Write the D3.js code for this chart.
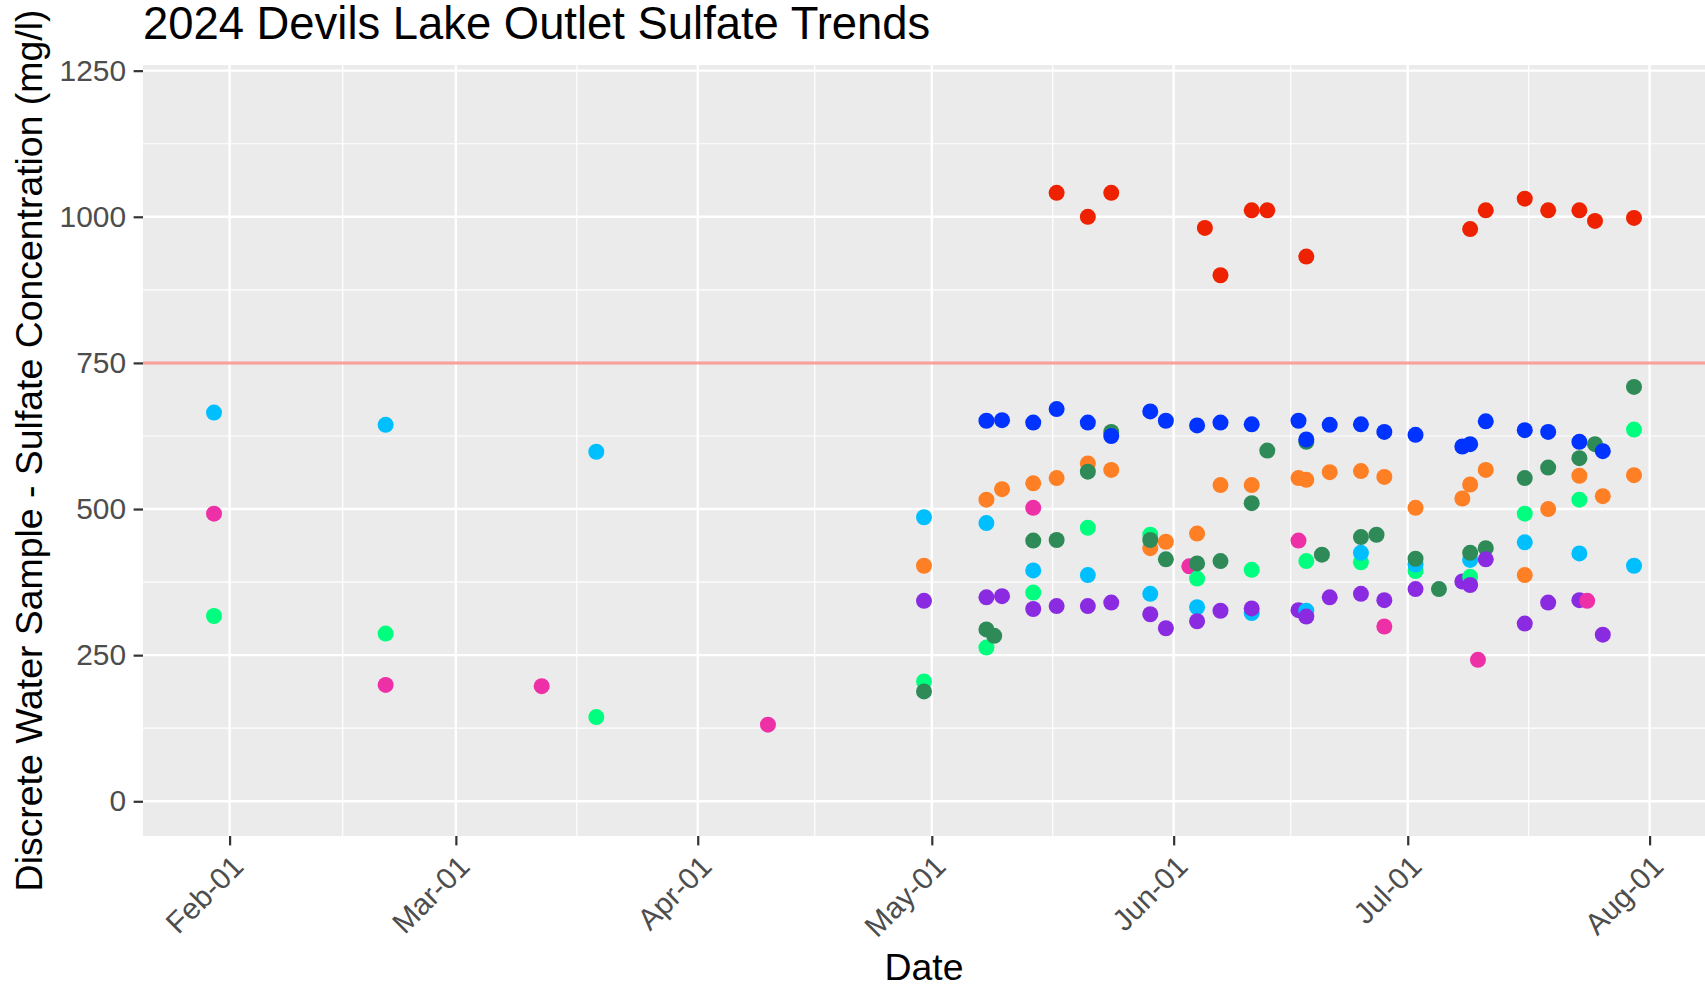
<!DOCTYPE html>
<html><head><meta charset="utf-8">
<script src="https://cdn.jsdelivr.net/npm/d3@7"></script>
<style>
body{margin:0;background:#fff}
svg{display:block}
text{font-family:"Liberation Sans",Arial,Helvetica,sans-serif}
</style>
</head><body>
<svg id="chart" width="1705" height="992"></svg>
<script>
// ---------------- DATA ----------------
const seriesNames  = ["Site G", "Site LB", "Site O", "Site DG", "Site B", "Site P", "Site PK", "Site R"];
const seriesColors = ["#00FF7F", "#00BFFF", "#FF7F24", "#2E8B57", "#0033FF", "#8A2BE2", "#EE30A7", "#EE2200"];

const siteGDates  = ["2024-01-30","2024-02-21","2024-03-19","2024-04-30","2024-05-08","2024-05-14","2024-05-21","2024-05-29","2024-06-04","2024-06-11","2024-06-18","2024-06-25","2024-07-02","2024-07-09","2024-07-16","2024-07-23","2024-07-30"];
const siteGValues = [317, 287, 144, 205, 263, 357, 468, 456, 381, 396, 411, 409, 394, 384, 492, 516, 636];

const siteLBDates  = ["2024-01-30","2024-02-21","2024-03-19","2024-04-30","2024-05-08","2024-05-14","2024-05-21","2024-05-29","2024-06-04","2024-06-11","2024-06-18","2024-06-25","2024-07-02","2024-07-09","2024-07-16","2024-07-23","2024-07-30"];
const siteLBValues = [665, 644, 598, 486, 476, 395, 387, 355, 332, 322, 326, 425, 405, 413, 443, 424, 403];

const siteODates  = ["2024-04-30","2024-05-08","2024-05-10","2024-05-14","2024-05-17","2024-05-21","2024-05-24","2024-05-29","2024-05-31","2024-06-04","2024-06-07","2024-06-11","2024-06-17","2024-06-18","2024-06-21","2024-06-25","2024-06-28","2024-07-02","2024-07-08","2024-07-09","2024-07-11","2024-07-16","2024-07-19","2024-07-23","2024-07-26","2024-07-30"];
const siteOValues = [403, 516, 534, 544, 553, 578, 567, 433, 444, 458, 541, 541, 553, 550, 563, 565, 555, 502, 518, 542, 567, 387, 500, 557, 522, 558];

const siteDGDates  = ["2024-04-30","2024-05-08","2024-05-09","2024-05-14","2024-05-17","2024-05-21","2024-05-24","2024-05-29","2024-05-31","2024-06-04","2024-06-07","2024-06-11","2024-06-13","2024-06-18","2024-06-20","2024-06-25","2024-06-27","2024-07-02","2024-07-05","2024-07-09","2024-07-11","2024-07-16","2024-07-19","2024-07-23","2024-07-25","2024-07-30"];
const siteDGValues = [188, 294, 283, 446, 447, 564, 632, 447, 414, 407, 411, 510, 600, 615, 422, 452, 456, 415, 363, 425, 433, 553, 571, 587, 611, 709];

const siteBDates  = ["2024-05-08","2024-05-10","2024-05-14","2024-05-17","2024-05-21","2024-05-24","2024-05-29","2024-05-31","2024-06-04","2024-06-07","2024-06-11","2024-06-17","2024-06-18","2024-06-21","2024-06-25","2024-06-28","2024-07-02","2024-07-08","2024-07-09","2024-07-11","2024-07-16","2024-07-19","2024-07-23","2024-07-26"];
const siteBValues = [651, 652, 648, 671, 648, 625, 667, 651, 643, 648, 645, 651, 619, 644, 645, 632, 627, 607, 611, 650, 635, 632, 615, 599];

const sitePDates  = ["2024-04-30","2024-05-08","2024-05-10","2024-05-14","2024-05-17","2024-05-21","2024-05-24","2024-05-29","2024-05-31","2024-06-04","2024-06-07","2024-06-11","2024-06-17","2024-06-18","2024-06-21","2024-06-25","2024-06-28","2024-07-02","2024-07-08","2024-07-09","2024-07-11","2024-07-16","2024-07-19","2024-07-23","2024-07-26"];
const sitePValues = [343, 349, 351, 329, 334, 334, 340, 320, 296, 308, 326, 330, 327, 316, 349, 355, 344, 363, 376, 370, 414, 304, 340, 344, 285];

const sitePKDates  = ["2024-01-30","2024-02-21","2024-03-12","2024-04-10","2024-05-14","2024-06-03","2024-06-17","2024-06-28","2024-07-10","2024-07-24"];
const sitePKValues = [492, 199, 197, 131, 502, 402, 446, 299, 242, 343];

const siteRDates  = ["2024-05-17","2024-05-21","2024-05-24","2024-06-05","2024-06-07","2024-06-11","2024-06-13","2024-06-18","2024-07-09","2024-07-11","2024-07-16","2024-07-19","2024-07-23","2024-07-25","2024-07-30"];
const siteRValues = [1041, 1000, 1041, 981, 900, 1011, 1011, 932, 979, 1011, 1031, 1011, 1011, 993, 998];

const yTickValues   = [0, 250, 500, 750, 1000, 1250];
const yMinorValues  = [125, 375, 625, 875, 1125];
const yLimits       = [-59.4, 1259.7];
const thresholdValue = 750;
const xTickDates    = ["2024-02-01","2024-03-01","2024-04-01","2024-05-01","2024-06-01","2024-07-01","2024-08-01"];
const titleText = "2024 Devils Lake Outlet Sulfate Trends";
const xTitle = "Date";
const yTitle = "Discrete Water Sample - Sulfate Concentration (mg/l)";

// ---------------- BUILD ----------------
const allDates = [siteGDates, siteLBDates, siteODates, siteDGDates, siteBDates, sitePDates, sitePKDates, siteRDates];
const allValues = [siteGValues, siteLBValues, siteOValues, siteDGValues, siteBValues, sitePValues, sitePKValues, siteRValues];
const parse = d3.utcParse("%Y-%m-%d");
const points = [];
allDates.forEach((ds, si) => ds.forEach((d, i) => points.push({series: si, date: parse(d), value: allValues[si][i]})));
points.sort((a, b) => (a.date - b.date) || (a.series - b.series));

const W = 1705, H = 992;
const panel = {left: 143, right: 1705, top: 65, bottom: 836};

const ext = d3.extent(points, p => p.date);
const span = ext[1] - ext[0];
const x = d3.scaleUtc()
  .domain([new Date(+ext[0] - span * 0.05), new Date(+ext[1] + span * 0.05)])
  .range([panel.left, panel.right]);
const y = d3.scaleLinear().domain(yLimits).range([panel.bottom, panel.top]);

const svg = d3.select("#chart");
svg.append("rect").attr("width", W).attr("height", H).attr("fill", "#fff");

svg.append("defs").append("clipPath").attr("id", "clip")
  .append("rect").attr("x", panel.left).attr("y", panel.top)
  .attr("width", panel.right - panel.left).attr("height", panel.bottom - panel.top);

svg.append("rect")
  .attr("x", panel.left).attr("y", panel.top)
  .attr("width", panel.right - panel.left).attr("height", panel.bottom - panel.top)
  .attr("fill", "#EBEBEB");

const grid = svg.append("g").attr("clip-path", "url(#clip)");
const xMajor = xTickDates.map(parse);
const monthBreaks = d3.utcMonth.range(d3.utcMonth.offset(xMajor[0], -1), d3.utcMonth.offset(xMajor[xMajor.length - 1], 2));
const xMinor = d3.pairs(monthBreaks).map(([a, b]) => new Date((+a + +b) / 2));

grid.selectAll(".ymin").data(yMinorValues).join("line")
  .attr("x1", panel.left).attr("x2", panel.right)
  .attr("y1", d => y(d)).attr("y2", d => y(d))
  .attr("stroke", "#fff").attr("stroke-width", 1.2);
grid.selectAll(".xmin").data(xMinor).join("line")
  .attr("y1", panel.top).attr("y2", panel.bottom)
  .attr("x1", d => x(d)).attr("x2", d => x(d))
  .attr("stroke", "#fff").attr("stroke-width", 1.2);
grid.selectAll(".ymaj").data(yTickValues).join("line")
  .attr("x1", panel.left).attr("x2", panel.right)
  .attr("y1", d => y(d)).attr("y2", d => y(d))
  .attr("stroke", "#fff").attr("stroke-width", 2.4);
grid.selectAll(".xmaj").data(xMajor).join("line")
  .attr("y1", panel.top).attr("y2", panel.bottom)
  .attr("x1", d => x(d)).attr("x2", d => x(d))
  .attr("stroke", "#fff").attr("stroke-width", 2.4);

grid.append("line")
  .attr("x1", panel.left).attr("x2", panel.right)
  .attr("y1", y(thresholdValue)).attr("y2", y(thresholdValue))
  .attr("stroke", "#F8766D").attr("stroke-opacity", 0.7).attr("stroke-width", 3);

grid.selectAll("circle").data(points).join("circle")
  .attr("cx", d => x(d.date)).attr("cy", d => y(d.value))
  .attr("r", 8).attr("fill", d => seriesColors[d.series]);

const tickFont = 29.9;
const yAxis = svg.append("g").attr("transform", `translate(${panel.left},0)`)
  .call(d3.axisLeft(y).tickValues(yTickValues).tickSize(9.4).tickPadding(7.5).tickFormat(d3.format("d")));
yAxis.select(".domain").remove();
yAxis.selectAll(".tick line").attr("stroke", "#333").attr("stroke-width", 2.2);
yAxis.selectAll(".tick text").attr("fill", "#4D4D4D").style("font-size", tickFont + "px")
  .style("font-family", '"Liberation Sans",Arial,sans-serif');

const xAxis = svg.append("g").attr("transform", `translate(0,${panel.bottom})`)
  .call(d3.axisBottom(x).tickValues(xMajor).tickSize(9.4).tickFormat(d3.utcFormat("%b-%d")));
xAxis.select(".domain").remove();
xAxis.selectAll(".tick line").attr("stroke", "#333").attr("stroke-width", 2.2);
xAxis.selectAll(".tick text")
  .attr("fill", "#4D4D4D").style("font-size", tickFont + "px")
  .style("font-family", '"Liberation Sans",Arial,sans-serif')
  .attr("text-anchor", "end")
  .attr("x", 0).attr("y", 0).attr("dy", "0.72em")
  .attr("transform", "translate(0,17) rotate(-45)");

svg.append("text").attr("x", panel.left).attr("y", 39)
  .style("font-size", "45.4px").attr("fill", "#000").text(titleText);
svg.append("text").attr("x", (panel.left + panel.right) / 2).attr("y", 980)
  .attr("text-anchor", "middle").style("font-size", "37.4px").attr("fill", "#000").text(xTitle);
svg.append("text")
  .attr("transform", `translate(42,${(panel.top + panel.bottom) / 2}) rotate(-90)`)
  .attr("text-anchor", "middle").style("font-size", "37.4px").attr("fill", "#000").text(yTitle);
</script>
</body></html>
